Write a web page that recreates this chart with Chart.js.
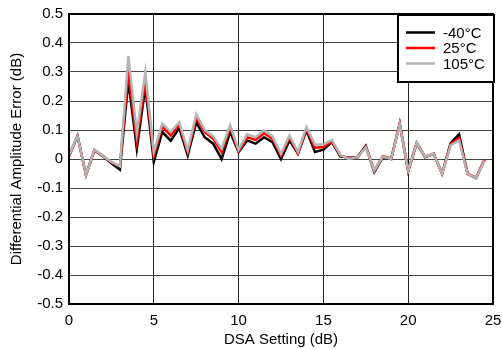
<!DOCTYPE html>
<html>
<head>
<meta charset="utf-8">
<script src="https://cdn.jsdelivr.net/npm/chart.js@4/dist/chart.umd.min.js"></script>
<style>
  html, body { margin: 0; padding: 0; background: #fff; }
  #wrap { width: 502px; height: 349px; }
</style>
</head>
<body>
<div id="wrap"><canvas id="chart" width="502" height="349"></canvas></div>
<script>
const dsaSetting = [0, 0.5, 1, 1.5, 2, 2.5, 3, 3.5, 4, 4.5, 5, 5.5, 6, 6.5, 7, 7.5, 8, 8.5, 9, 9.5,
  10, 10.5, 11, 11.5, 12, 12.5, 13, 13.5, 14, 14.5, 15, 15.5, 16, 16.5, 17, 17.5, 18, 18.5, 19, 19.5,
  20, 20.5, 21, 21.5, 22, 22.5, 23, 23.5, 24, 24.5];

const errMinus40 = [0.01, 0.08, -0.055, 0.03, 0.01, -0.015, -0.037, 0.27, 0.035, 0.25,
  -0.01, 0.093, 0.063, 0.107, 0.012, 0.126, 0.075, 0.053, 0.0, 0.093,
  0.024, 0.064, 0.053, 0.075, 0.058, 0.0, 0.064, 0.018, 0.099, 0.024,
  0.032, 0.058, 0.009, 0.004, 0.006, 0.045, -0.045, 0.006, 0.0, 0.122,
  -0.042, 0.055, 0.006, 0.018, -0.051, 0.055, 0.085, -0.051, -0.066, -0.003];

const err25 = [0.01, 0.08, -0.055, 0.03, 0.01, -0.012, -0.025, 0.30, 0.06, 0.27,
  0.012, 0.112, 0.081, 0.118, 0.024, 0.142, 0.093, 0.07, 0.024, 0.108,
  0.027, 0.075, 0.066, 0.089, 0.07, 0.012, 0.075, 0.02, 0.104, 0.039,
  0.041, 0.06, 0.012, 0.003, 0.006, 0.042, -0.04, 0.01, 0.002, 0.122,
  -0.04, 0.055, 0.008, 0.018, -0.051, 0.05, 0.073, -0.051, -0.064, -0.003];

const err105 = [0.012, 0.08, -0.055, 0.032, 0.01, -0.01, -0.025, 0.355, 0.09, 0.30,
  0.024, 0.122, 0.093, 0.127, 0.03, 0.154, 0.10, 0.078, 0.035, 0.116,
  0.032, 0.085, 0.075, 0.099, 0.078, 0.018, 0.081, 0.025, 0.11, 0.05,
  0.05, 0.066, 0.014, 0.0, 0.006, 0.04, -0.04, 0.008, 0.0, 0.12,
  -0.04, 0.055, 0.008, 0.018, -0.051, 0.047, 0.064, -0.051, -0.066, -0.005];

const seriesNames = ['-40\u00B0C', '25\u00B0C', '105\u00B0C'];
const seriesColors = ['#000000', '#ff0000', '#b4b4b4'];

const xTicks = [0, 5, 10, 15, 20, 25];
const yTicks = [-0.5, -0.4, -0.3, -0.2, -0.1, 0, 0.1, 0.2, 0.3, 0.4, 0.5];

const FONT = 'Liberation Sans, Arial, sans-serif';

function toPoints(values) {
  return dsaSetting.map((x, i) => ({ x: x, y: values[i] }));
}

// frame around plot area + boxed legend in the top right corner
const framePlugin = {
  id: 'frame',
  afterDatasetsDraw(chart) {
    const ctx = chart.ctx;
    const a = chart.chartArea;
    ctx.save();
    ctx.strokeStyle = '#000';
    ctx.lineWidth = 2;
    ctx.strokeRect(a.left, a.top, a.right - a.left, a.bottom - a.top);

    // legend
    const bx = 398, by = 15, bw = 96, bh = 67;
    ctx.fillStyle = '#fff';
    ctx.fillRect(bx, by, bw, bh);
    ctx.strokeRect(bx, by, bw, bh);
    ctx.font = '15px ' + FONT;
    ctx.textBaseline = 'middle';
    ctx.textAlign = 'left';
    chart.data.datasets.forEach((ds, i) => {
      const y = by + 17.5 + i * 15.5;
      ctx.strokeStyle = ds.borderColor;
      ctx.lineWidth = 2.5;
      ctx.beginPath();
      ctx.moveTo(bx + 8, y);
      ctx.lineTo(bx + 37, y);
      ctx.stroke();
      ctx.fillStyle = '#000';
      ctx.fillText(ds.label, bx + 45, y + 1);
    });
    ctx.restore();
  }
};

new Chart(document.getElementById('chart').getContext('2d'), {
  type: 'line',
  data: {
    datasets: [
      { label: seriesNames[0], data: toPoints(errMinus40), borderColor: seriesColors[0], order: 3 },
      { label: seriesNames[1], data: toPoints(err25), borderColor: seriesColors[1], order: 2 },
      { label: seriesNames[2], data: toPoints(err105), borderColor: seriesColors[2], order: 1 }
    ]
  },
  options: {
    responsive: false,
    animation: false,
    layout: { padding: { top: 14, right: 9, left: 0, bottom: 0 } },
    elements: {
      point: { radius: 0 },
      line: { borderWidth: 2.5, tension: 0, fill: false }
    },
    plugins: {
      legend: { display: false },
      tooltip: { enabled: false }
    },
    scales: {
      x: {
        type: 'linear',
        min: 0,
        max: 25,
        afterBuildTicks: (scale) => { scale.ticks = xTicks.map(v => ({ value: v })); },
        afterFit: (scale) => {
          scale.height = 45;
          scale.paddingLeft = 0;
          scale.paddingRight = 0;
        },
        grid: { color: '#222', lineWidth: 1, drawTicks: false },
        border: { display: false },
        ticks: { color: '#000', padding: 8, font: { family: FONT, size: 15 }, maxRotation: 0 },
        title: { display: true, text: 'DSA Setting (dB)', color: '#000', font: { family: FONT, size: 15 }, padding: { top: 0, bottom: 0 } }
      },
      y: {
        min: -0.5,
        max: 0.5,
        afterBuildTicks: (scale) => { scale.ticks = yTicks.map(v => ({ value: v })); },
        afterFit: (scale) => {
          scale.width = 69;
          scale.paddingTop = 0;
          scale.paddingBottom = 0;
        },
        grid: { color: '#444', lineWidth: 1, drawTicks: false },
        border: { display: false },
        ticks: {
          color: '#000', padding: 6, font: { family: FONT, size: 15 },
          callback: (v) => (Math.round(v * 10) / 10).toString()
        },
        title: { display: true, text: 'Differential Amplitude Error (dB)', color: '#000', font: { family: FONT, size: 15 }, padding: { top: 8, bottom: 0 } }
      }
    }
  },
  plugins: [framePlugin]
});
</script>
</body>
</html>
